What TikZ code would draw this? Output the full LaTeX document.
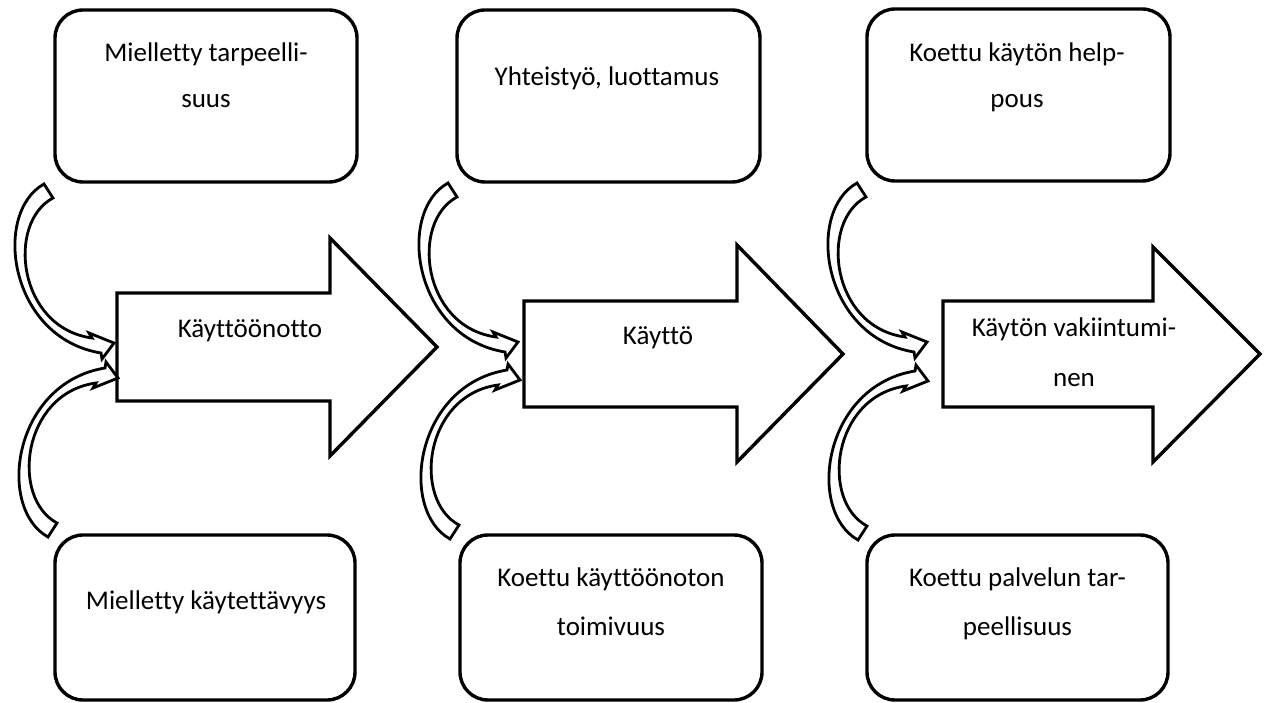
\documentclass[tikz,border=0pt]{standalone}
\usepackage{fontspec}
\setmainfont{Carlito}[Ligatures=NoCommon]
\begin{document}
\begin{tikzpicture}[x=1pt,y=-1pt,
  box/.style={draw, line width=3.4pt, rounded corners=28pt, inner sep=0pt},
  bigarr/.style={draw, line width=3.4pt, line join=miter, fill=white},
  curvarr/.style={draw, line width=2.8pt, fill=white, line join=miter},
  lbl/.style={font=\fontsize{27}{31}\selectfont, inner sep=0pt, anchor=base},
  curv/.pic={\draw[curvarr] (-70,-159) .. controls (-122,-130) and (-105,-5) .. (-13,10) -- (-12,16) -- (0,0) -- (-25,-10) -- (-22,-5) .. controls (-96,-15) and (-108,-120) .. (-61,-145) -- cycle;}
]
\useasboundingbox (0,0) rectangle (1270,703);

% top boxes
\node[box, minimum width=302pt, minimum height=172pt] (b1) at (206,96) {};
\node[box, minimum width=303pt, minimum height=172pt] (b2) at (608.5,96) {};
\node[box, minimum width=303pt, minimum height=172pt] (b3) at (1018.5,95) {};
% bottom boxes
\node[box, minimum width=300pt, minimum height=165pt] (c1) at (205,617.5) {};
\node[box, minimum width=302pt, minimum height=165pt] (c2) at (611,617.5) {};
\node[box, minimum width=301pt, minimum height=165pt] (c3) at (1017.5,617.5) {};

% big arrows
\draw[bigarr] (117,293) -- (330,293) -- (330,238) -- (437,347) -- (330,456) -- (330,401) -- (117,401) -- cycle;
\draw[bigarr] (524,301) -- (737,301) -- (737,245) -- (843,354) -- (737,462) -- (737,407) -- (524,407) -- cycle;
\draw[bigarr] (943,301) -- (1153,301) -- (1153,247) -- (1260,354) -- (1153,462) -- (1153,407) -- (943,407) -- cycle;

% curved arrows
\pic at (114,343) {curv};
\pic at (518,342) {curv};
\pic at (927,342) {curv};
\pic[yscale=-1] at (118,378) {curv};
\pic[yscale=-1] at (520,380) {curv};
\pic[yscale=-1] at (928,381) {curv};

% texts
\node[lbl] (t1a) at (206,62) {Mielletty tarpeelli-};
\node[lbl] (t1b) at (206,108) {suus};
\node[lbl] (t2a) at (607,86) {Yhteistyö, luottamus};
\node[lbl] (t3a) at (1017,62) {Koettu käytön help-};
\node[lbl] (t3b) at (1017,108) {pous};
\node[lbl] (u1a) at (206,609) {Mielletty käytettävyys};
\node[lbl] (u2a) at (611,586) {Koettu käyttöönoton};
\node[lbl] (u2b) at (611,635) {toimivuus};
\node[lbl] (u3a) at (1017.5,586) {Koettu palvelun tar-};
\node[lbl] (u3b) at (1017.5,635) {peellisuus};
\node[lbl] (a1) at (250,338) {Käyttöönotto};
\node[lbl] (a2) at (658,345) {Käyttö};
\node[lbl] (a3a) at (1074,337) {Käytön vakiintumi-};
\node[lbl] (a3b) at (1074,387) {nen};
\end{tikzpicture}
\end{document}
